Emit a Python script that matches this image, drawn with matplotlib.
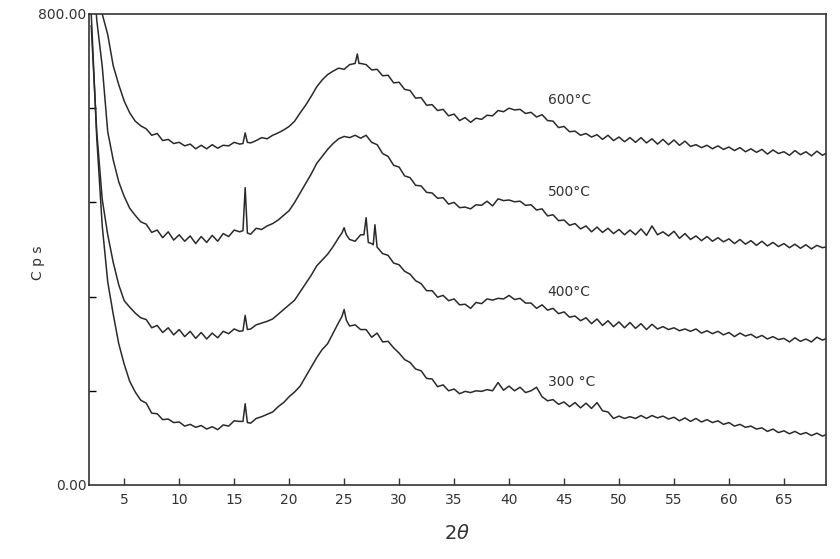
import matplotlib
matplotlib.use("Agg")
import matplotlib.pyplot as plt
import numpy as np

# scan grid, 2theta in degrees (0.5 deg step)
angle = np.arange(2.0, 69.01, 0.5)

cps_600 = [950, 860, 800, 765, 712, 680, 652, 632, 618, 610,
           605, 594, 597, 585, 587, 580, 582, 576, 579, 571,
           577, 571, 578, 572, 577, 576, 582, 579, 598, 581,
           585, 590, 588, 594, 598, 603, 609, 618, 632, 645,
           660, 676, 688, 697, 703, 708, 706, 714, 716, 716,
           714, 705, 706, 695, 696, 683, 684, 672, 670, 657,
           658, 645, 646, 636, 638, 627, 630, 619, 624, 616,
           623, 621, 628, 627, 636, 634, 640, 637, 638, 631,
           633, 625, 629, 619, 618, 607, 609, 600, 601, 594,
           597, 591, 595, 587, 594, 585, 591, 583, 590, 582,
           590, 581, 588, 579, 587, 578, 586, 577, 584, 575,
           578, 573, 577, 571, 576, 570, 574, 568, 573, 566,
           571, 565, 570, 562, 569, 563, 566, 560, 568, 561,
           566, 559, 567, 560, 565]
cps_500 = [930, 790, 711, 600, 552, 515, 490, 470, 458, 447,
           443, 429, 433, 420, 430, 416, 425, 414, 423, 410,
           422, 412, 424, 414, 427, 422, 433, 430, 505, 426,
           436, 434, 440, 444, 450, 458, 466, 480, 496, 512,
           528, 546, 558, 570, 580, 588, 592, 590, 594, 589,
           594, 582, 578, 563, 558, 543, 540, 525, 522, 509,
           508, 497, 496, 487, 488, 477, 480, 471, 472, 469,
           476, 475, 482, 474, 486, 483, 484, 481, 482, 475,
           476, 467, 469, 457, 459, 449, 450, 441, 444, 435,
           440, 430, 438, 429, 436, 427, 434, 425, 433, 425,
           435, 424, 440, 425, 430, 423, 431, 419, 427, 417,
           423, 415, 422, 414, 420, 413, 418, 410, 417, 409,
           415, 407, 414, 406, 412, 405, 410, 403, 409, 402,
           408, 401, 407, 403, 405]
cps_400 = [780, 600, 485, 425, 378, 340, 313, 302, 292, 284,
           281, 267, 271, 259, 267, 255, 264, 252, 261, 249,
           259, 248, 258, 250, 261, 257, 265, 261, 288, 265,
           272, 275, 278, 282, 290, 298, 306, 314, 328, 342,
           356, 372, 382, 392, 405, 420, 437, 417, 414, 425,
           454, 410, 404, 393, 390, 377, 374, 363, 358, 347,
           342, 330, 330, 319, 322, 313, 316, 306, 307, 300,
           310, 308, 316, 314, 317, 316, 322, 315, 317, 309,
           309, 300, 306, 297, 300, 291, 294, 285, 287, 279,
           284, 274, 282, 271, 279, 269, 277, 267, 276, 266,
           274, 264, 273, 265, 269, 264, 267, 262, 265, 261,
           265, 258, 262, 257, 261, 255, 259, 252, 258, 253,
           256, 250, 254, 248, 252, 247, 249, 243, 250, 244,
           248, 243, 251, 246, 250]
cps_300 = [800, 590, 440, 345, 290, 240, 205, 176, 158, 144,
           139, 122, 121, 111, 112, 106, 107, 100, 103, 98,
           101, 95, 99, 94, 102, 100, 109, 108, 138, 105,
           113, 116, 120, 124, 133, 140, 150, 158, 168, 184,
           200, 216, 230, 240, 258, 276, 298, 270, 272, 264,
           264, 251, 258, 243, 244, 233, 224, 213, 208, 197,
           194, 181, 180, 167, 170, 160, 163, 155, 159, 157,
           160, 159, 162, 160, 174, 161, 168, 160, 166, 157,
           160, 166, 150, 143, 145, 137, 141, 133, 140, 131,
           139, 130, 140, 126, 124, 113, 117, 113, 116, 113,
           118, 113, 118, 114, 117, 112, 115, 109, 114, 108,
           113, 107, 111, 106, 109, 103, 106, 100, 103, 98,
           100, 95, 97, 91, 95, 89, 92, 87, 91, 86,
           89, 84, 88, 83, 87]

# extra points around the sharp crystalline reflections
peak_x_600 = [15.8, 16.2, 26.2, 26.35]
peak_y_600 = [580, 582, 732, 716]
peak_x_500 = [15.8, 16.2]
peak_y_500 = [432, 428]
peak_x_400 = [15.8, 16.2, 24.8, 25.2, 26.8, 27.2, 27.65, 27.8]
peak_y_400 = [262, 264, 428, 425, 425, 412, 408, 442]
peak_x_300 = [15.8, 16.2, 24.8, 25.2]
peak_y_300 = [108, 106, 286, 280]

labels = ['600°C', '500°C', '400°C', '300 °C']
label_y = [654, 497, 328, 175]


def merged(vals, px, py):
    x = np.concatenate([angle, px])
    y = np.concatenate([np.array(vals, float), py])
    order = np.argsort(x, kind='stable')
    return x[order], y[order]


fig = plt.figure(figsize=(8.4, 5.59), dpi=100)
ax = fig.add_axes([0.106, 0.1324, 0.877, 0.8426])

ink = '#2a2a2a'
curves = [(cps_600, peak_x_600, peak_y_600),
          (cps_500, peak_x_500, peak_y_500),
          (cps_400, peak_x_400, peak_y_400),
          (cps_300, peak_x_300, peak_y_300)]
for vals, px, py in curves:
    x, y = merged(vals, px, py)
    ax.plot(x, y, color=ink, lw=1.1)

for lab, ly in zip(labels, label_y):
    ax.text(43.5, ly, lab, fontsize=10, color='#333333', va='center')

ax.set_xlim(1.8, 68.8)
ax.set_ylim(0, 800)
ax.set_xticks(range(5, 70, 5))
ax.set_yticks([0, 800])
ax.set_yticklabels(['0.00', '800.00'])
ax.set_yticks([160, 320, 480, 640], minor=True)
ax.tick_params(axis='x', direction='in', length=5, width=1, labelsize=10,
               colors='#333333', pad=6)
ax.tick_params(axis='y', which='major', length=0, labelsize=10,
               colors='#333333', pad=2)
ax.tick_params(axis='y', which='minor', direction='in', length=5, width=1)
for s in ax.spines.values():
    s.set_color('#333333')
    s.set_linewidth(1.2)

ax.set_xlabel(r'$2\theta$', fontsize=14, color='#333333', labelpad=12)
fig.text(0.045, 0.53, 'C p s', rotation=90, fontsize=10, color='#333333',
         ha='center', va='center')

fig.savefig('out.png', dpi=100, facecolor='white')
